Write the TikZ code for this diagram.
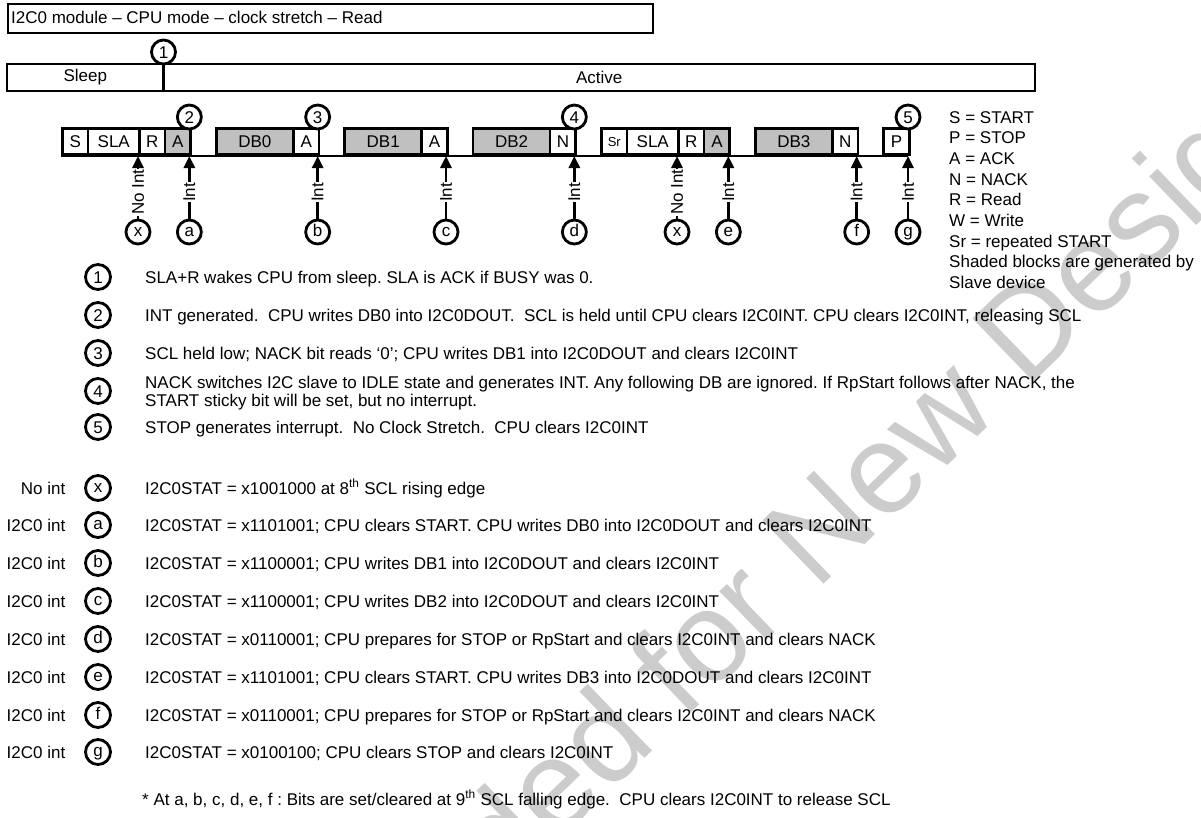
\documentclass[tikz,border=0pt]{standalone}
\usepackage{fontspec}
\setmainfont{Liberation Sans}
\usetikzlibrary{arrows.meta}
\definecolor{shade}{HTML}{C0C0C0}
\definecolor{wmark}{HTML}{CCCCCC}
\frenchspacing
\begin{document}
\begin{tikzpicture}[x=1pt,y=-1pt,
  every node/.style={font=\fontsize{17}{20}\selectfont},
  lw/.style={line width=2.8pt},
  blk/.style={draw, line width=2.8pt, inner sep=0pt, minimum height=26pt, fill=white, anchor=south west},
  sblk/.style={blk, fill=shade},
  circ/.style={draw, circle, line width=2.8pt, minimum size=24pt, inner sep=0pt, fill=white, text height=12.2pt, text depth=0pt},
  lcirc/.style={circ, text height=8.8pt},
  dcirc/.style={circ, minimum size=25pt},
  ldcirc/.style={dcirc, text height=8.8pt},
  arr/.style={line width=2.8pt, -{Triangle[width=11pt,length=12pt]}},
  lab/.style={fill=white, inner sep=0.6pt, rotate=90},
  txt/.style={anchor=base west, inner sep=0pt},
  ltxt/.style={anchor=base east, inner sep=0pt},
]
\def\u{25.667}
\useasboundingbox (0,0) rectangle (1201,817);
% watermark
\begin{scope}
\clip (0,0) rectangle (1201,817);
\node[anchor=base west, rotate=44, text=wmark, font=\fontsize{128}{128}\selectfont, inner sep=0pt] (wm) at (-135,1511) {Not Recommended for New Designs};
\end{scope}

% title
\node[draw, line width=2.4pt, anchor=north west, minimum width=645pt, minimum height=29pt, inner sep=0pt] (title) at (7,3) {};
\node[txt] (titletext) at (11,23.6) {I2C0 module – CPU mode – clock stretch – Read};

% sleep / active bar
\node[draw, line width=2.8pt, minimum width=156.5pt, minimum height=27pt, inner sep=0pt] (sleep) at (85.25,77.5) {Sleep};
\node[draw, line width=2.8pt, minimum width=871.5pt, minimum height=27pt, inner sep=0pt] (active) at (599.25,77.5) {Active};
\node[circ] (c1) at (163.5,52) {1};
\coordinate (div) at (163.5,91);
\draw[lw] (c1.south) -- (div);

% baseline
\coordinate (bl) at (61,156);
\coordinate (br) at (908,156);
\draw[lw] (bl) -- (br);

% blocks
\node[blk, minimum width=\u pt] (bS) at ({61+0*\u},156) {S};
\node[blk, minimum width=2*\u pt] (bSLA) at ({61+1*\u},156) {SLA};
\node[blk, minimum width=\u pt] (bR) at ({61+3*\u},156) {R};
\node[sblk, minimum width=\u pt] (bA1) at ({61+4*\u},156) {A};
\node[sblk, minimum width=3*\u pt] (bDB0) at ({61+6*\u},156) {DB0};
\node[blk, minimum width=\u pt] (bA2) at ({61+9*\u},156) {A};
\node[sblk, minimum width=3*\u pt] (bDB1) at ({61+11*\u},156) {DB1};
\node[blk, minimum width=\u pt] (bA3) at ({61+14*\u},156) {A};
\node[sblk, minimum width=3*\u pt] (bDB2) at ({61+16*\u},156) {DB2};
\node[blk, minimum width=\u pt] (bN1) at ({61+19*\u},156) {N};
\node[blk, minimum width=\u pt, font=\fontsize{13}{15}\selectfont] (bSr) at ({61+21*\u},156) {Sr};
\node[blk, minimum width=2*\u pt] (bSLA2) at ({61+22*\u},156) {SLA};
\node[blk, minimum width=\u pt] (bR2) at ({61+24*\u},156) {R};
\node[sblk, minimum width=\u pt] (bA4) at ({61+25*\u},156) {A};
\node[sblk, minimum width=3*\u pt] (bDB3) at ({61+27*\u},156) {DB3};
\node[blk, minimum width=\u pt] (bN2) at ({61+30*\u},156) {N};
\node[blk, minimum width=\u pt] (bP) at ({61+32*\u},156) {P};

% top circles
\node[circ] (c2) at ({61+5*\u},117) {2};
\node[circ] (c3) at ({61+10*\u},117) {3};
\node[circ] (c4) at ({61+20*\u},117) {4};
\node[circ] (c5) at ({61+33*\u},117) {5};

% bottom circles and arrows
\foreach \nm/\k/\ltr/\lbl in {x1/3/x/No Int, a/5/a/Int, b/10/b/Int, c/15/c/Int, d/20/d/Int, x2/24/x/No Int, e/26/e/Int, f/31/f/Int, g/33/g/Int}{
  \node[lcirc] (q\nm) at ({61+\k*\u},232) {\ltr};
  \coordinate (t\nm) at ({61+\k*\u},156);
  \draw[arr] (q\nm.north) -- node[lab, pos=0.42] {\lbl} (t\nm);
}

% legend
\node[txt] (lg1) at (949,123.1) {S = START};
\node[txt] (lg2) at (949,143.8) {P = STOP};
\node[txt] (lg3) at (949,164.4) {A = ACK};
\node[txt] (lg4) at (949,185.1) {N = NACK};
\node[txt] (lg5) at (949,205.8) {R = Read};
\node[txt] (lg6) at (949,226.4) {W = Write};
\node[txt] (lg7) at (949,247.1) {Sr = repeated START};
\node[txt] (lg8) at (949,267.8) {Shaded blocks are generated by};
\node[txt] (lg9) at (949,288.4) {Slave device};

% description rows
\node[dcirc] (d1) at (98,277) {1};
\node[txt] (t1) at (145,283.1) {SLA+R wakes CPU from sleep. SLA is ACK if BUSY was 0.};
\node[dcirc] (d2) at (98,315) {2};
\node[txt] (t2) at (145,321.1) {INT generated.\ \ CPU writes DB0 into I2C0DOUT.\ \ SCL is held until CPU clears I2C0INT. CPU clears I2C0INT, releasing SCL};
\node[dcirc] (d3) at (98,353) {3};
\node[txt] (t3) at (145,359.1) {SCL held low; NACK bit reads ‘0’; CPU writes DB1 into I2C0DOUT and clears I2C0INT};
\node[dcirc] (d4) at (98,391) {4};
\node[txt] (t4a) at (145,388.1) {NACK switches I2C slave to IDLE state and generates INT. Any following DB are ignored. If RpStart follows after NACK, the};
\node[txt] (t4b) at (145,406.1) {START sticky bit will be set, but no interrupt.};
\node[dcirc] (d5) at (98,427) {5};
\node[txt] (t5) at (145,433.1) {STOP generates interrupt.\ \ No Clock Stretch.\ \ CPU clears I2C0INT};

\node[ltxt] (lx) at (65.5,494.1) {No int};
\node[ldcirc] (dx) at (98,488) {x};
\node[txt] (tx) at (145,494.1) {I2C0STAT = x1001000 at 8\textsuperscript{th} SCL rising edge};

\node[ltxt] (la) at (65.5,531.1) {I2C0 int};
\node[ldcirc] (da) at (98,525) {a};
\node[txt] (ta) at (145,531.1) {I2C0STAT = x1101001; CPU clears START. CPU writes DB0 into I2C0DOUT and clears I2C0INT};

\node[ltxt] (lb) at (65.5,569.1) {I2C0 int};
\node[ldcirc] (db) at (98,563) {b};
\node[txt] (tb) at (145,569.1) {I2C0STAT = x1100001; CPU writes DB1 into I2C0DOUT and clears I2C0INT};

\node[ltxt] (lc) at (65.5,607.1) {I2C0 int};
\node[ldcirc] (dc) at (98,601) {c};
\node[txt] (tc) at (145,607.1) {I2C0STAT = x1100001; CPU writes DB2 into I2C0DOUT and clears I2C0INT};

\node[ltxt] (ld) at (65.5,645.1) {I2C0 int};
\node[ldcirc] (dd) at (98,639) {d};
\node[txt] (td) at (145,645.1) {I2C0STAT = x0110001; CPU prepares for STOP or RpStart and clears I2C0INT and clears NACK};

\node[ltxt] (le) at (65.5,683.1) {I2C0 int};
\node[ldcirc] (de) at (98,677) {e};
\node[txt] (te) at (145,683.1) {I2C0STAT = x1101001; CPU clears START. CPU writes DB3 into I2C0DOUT and clears I2C0INT};

\node[ltxt] (lf) at (65.5,721.1) {I2C0 int};
\node[ldcirc] (df) at (98,715) {f};
\node[txt] (tf) at (145,721.1) {I2C0STAT = x0110001; CPU prepares for STOP or RpStart and clears I2C0INT and clears NACK};

\node[ltxt] (lgg) at (65.5,758.1) {I2C0 int};
\node[ldcirc] (dg) at (98,752) {g};
\node[txt] (tg) at (145,758.1) {I2C0STAT = x0100100; CPU clears STOP and clears I2C0INT};

\node[txt] (foot) at (142,805.1) {* At a, b, c, d, e, f : Bits are set/cleared at 9\textsuperscript{th} SCL falling edge.\ \ CPU clears I2C0INT to release SCL};
\end{tikzpicture}
\end{document}
